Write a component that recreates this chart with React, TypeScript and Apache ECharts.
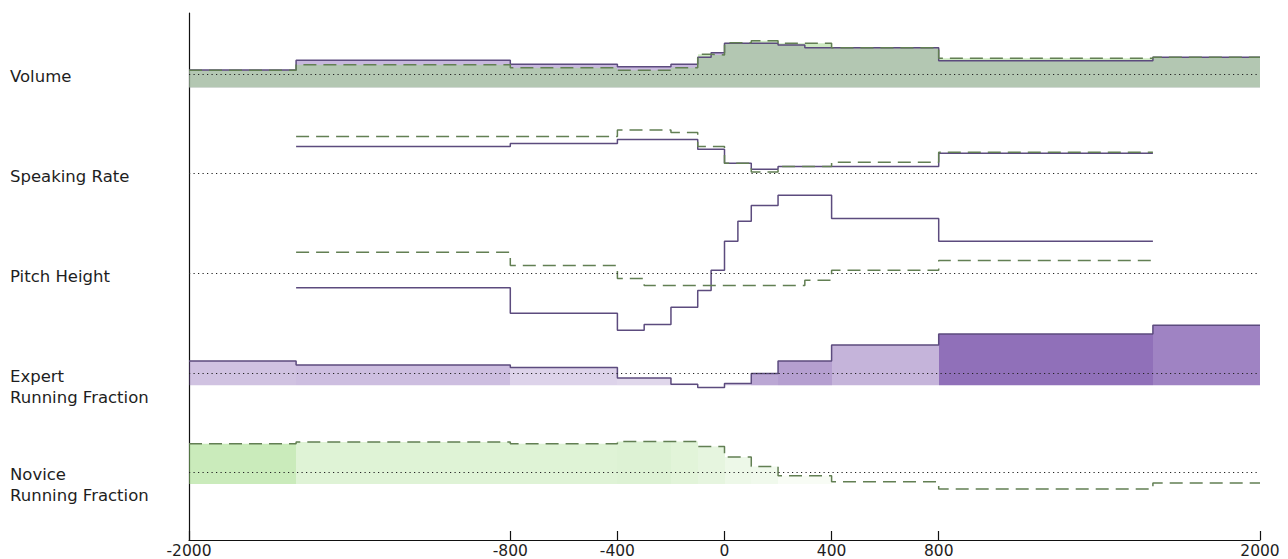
import React, { useEffect, useRef } from "react";
import * as echarts from "echarts";

// Bin edges (ms relative to event) shared by every panel
const binEdges = [-2000, -1600, -800, -400, -300, -200, -100, -50, 0, 50, 100, 200, 300, 400, 800, 1600, 2000];
const xTicks = [-2000, -800, -400, 0, 400, 800, 2000];

// Values per bin (relative units, 0 = reference dotted line)
const volumeExpert = [0.4, 1.37, 0.97, 0.73, 0.73, 0.97, 1.67, 2.13, 3.07, 3.07, 3.07, 2.9, 2.63, 2.63, 1.33, 1.67];
const volumeNovice = [0.37, 0.93, 0.63, 0.37, 0.37, 0.63, 1.97, 1.9, 3.13, 3.13, 3.33, 3.07, 3.07, 2.63, 1.57, 1.67];

const rateExpert = [null, 2.67, 2.97, 3.37, 3.37, 3.37, 2.4, 2.4, 1.0, 1.0, 0.4, 0.67, 0.67, 0.67, 2.0, null];
const rateNovice = [null, 3.67, 3.67, 4.33, 4.33, 4.07, 2.67, 2.67, 1.0, 1.0, 0.13, 0.67, 0.67, 1.1, 2.1, null];

const pitchExpert = [null, -1.43, -3.97, -5.67, -5.1, -3.37, -1.7, 0.33, 3.23, 5.23, 6.8, 7.83, 7.83, 5.5, 3.23, null];
const pitchNovice = [null, 2.13, 0.8, -0.5, -1.2, -1.2, -1.2, -1.2, -1.2, -1.2, -1.2, -1.2, -0.67, 0.33, 1.3, null];

const expertFraction = [1.23, 0.83, 0.57, -0.47, -0.47, -1.1, -1.43, -1.43, -1.03, -1.03, -0.03, 1.23, 1.23, 2.83, 3.93, 4.8];
const expertWeight = [0.35, 0.37, 0.25, 0.23, 0.23, 0.22, 0.2, 0.2, 0.3, 0.3, 0.5, 0.55, 0.55, 0.43, 0.82, 0.71];

const noviceFraction = [2.83, 3.0, 2.83, 3.06, 3.06, 3.06, 2.56, 2.56, 1.5, 1.5, 0.56, -0.37, -0.37, -0.97, -1.7, -1.1];
const noviceWeight = [0.5, 0.3, 0.3, 0.32, 0.32, 0.28, 0.24, 0.24, 0.17, 0.17, 0.14, 0.07, 0.07, 0, 0, 0];

const panelNames = [["Volume"], ["Speaking Rate"], ["Pitch Height"], ["Expert", "Running Fraction"], ["Novice", "Running Fraction"]];
const fillFloor = [-1.35, 0, 0, -1.2, -1.2];

// layout
const GRID_TOP = 13;
const GRID_BOTTOM_PX = 540;
const GRID_LEFT = 189;
const GRID_RIGHT_PX = 1260;
const PX_PER_UNIT = 10;
const refLinePx = [74, 173.3, 273.5, 373.3, 472];

const SOLID = "#5c4b7e";
const DASHED = "#627f53";
const FONT = "DejaVu Sans";

function stepPoints(values: (number | null)[]) {
  const pts: any[] = [];
  values.forEach((v, i) => {
    if (v == null) {
      if (pts.length && pts[pts.length - 1][1] != null) pts.push([binEdges[i], null]);
      return;
    }
    pts.push([binEdges[i], v], [binEdges[i + 1], v]);
  });
  return pts;
}

function stepFill(yAxisIndex: number, values: number[], weights: number[] | null, rgb: string, alpha: number, floor: number) {
  const data = values.map((v, i) => [binEdges[i], binEdges[i + 1], v, weights ? weights[i] : alpha]);
  return {
    type: "custom",
    xAxisIndex: 0,
    yAxisIndex,
    silent: true,
    z: 1,
    data,
    encode: { x: [0, 1], y: 2 },
    renderItem: (params: any, api: any) => {
      const x0 = api.value(0);
      const x1 = api.value(1);
      const v = api.value(2);
      const a = api.value(3);
      if (!(v > floor) || !(a > 0)) return null;
      const p0 = api.coord([x0, v]);
      const p1 = api.coord([x1, floor]);
      const left = Math.round(p0[0]);
      const right = Math.round(p1[0]);
      return {
        type: "rect",
        shape: { x: left, y: p0[1], width: right - left, height: p1[1] - p0[1] },
        style: { fill: `rgba(${rgb},${a})` },
      };
    },
  };
}

function stepLine(yAxisIndex: number, values: (number | null)[], color: string, dashed: boolean, withRef: boolean) {
  const s: any = {
    type: "line",
    xAxisIndex: 0,
    yAxisIndex,
    data: stepPoints(values),
    symbol: "none",
    showSymbol: false,
    silent: true,
    clip: false,
    z: 3,
    lineStyle: { color, width: 1.5, type: dashed ? [13, 7] : "solid" },
  };
  if (withRef) {
    s.markLine = {
      silent: true,
      symbol: "none",
      label: { show: false },
      z: 5,
      lineStyle: { color: "#222", width: 1.2, type: [1.2, 3.3] },
      data: [{ yAxis: 0 }],
    };
  }
  return s;
}

export default function App() {
  const ref = useRef<HTMLDivElement>(null);
  useEffect(() => {
    if (!ref.current) return;
    const chart = echarts.init(ref.current, null, { renderer: "svg" });
    const gridHeight = GRID_BOTTOM_PX - GRID_TOP;
    const totalUnits = gridHeight / PX_PER_UNIT;
    const yAxes = refLinePx.map((p, i) => {
      const max = (p - GRID_TOP) / PX_PER_UNIT;
      return {
        type: "value",
        gridIndex: 0,
        min: max - totalUnits,
        max,
        position: "left",
        offset: 0,
        axisLine: { show: i === 0, onZero: false, lineStyle: { color: "#111", width: 1.2 } },
        axisTick: { show: false },
        axisLabel: { show: false },
        splitLine: { show: false },
      };
    });

    const graphics: any[] = [];
    panelNames.forEach((lines, i) => {
      lines.forEach((t, j) => {
        graphics.push({
          type: "text",
          x: 10,
          y: refLinePx[i] + 2.7 + j * 21,
          silent: true,
          style: { text: t, fontSize: 16.5, fontFamily: FONT, fill: "#1e1e1e", verticalAlign: "middle", align: "left" },
        });
      });
    });

    chart.setOption({
      animation: false,
      backgroundColor: "#ffffff",
      grid: { left: GRID_LEFT, right: 1288 - GRID_RIGHT_PX, top: GRID_TOP, bottom: 559 - GRID_BOTTOM_PX, containLabel: false },
      xAxis: {
        type: "value",
        min: -2000,
        max: 2000,
        axisLine: { show: true, onZero: false, lineStyle: { color: "#111", width: 1.2 } },
        axisTick: { show: true, inside: true, length: 9, customValues: xTicks, lineStyle: { color: "#111", width: 1.2 } },
        axisLabel: {
          show: true,
          customValues: xTicks,
          fontSize: 15.5,
          fontFamily: FONT,
          color: "#1e1e1e",
          margin: 3,
          formatter: (v: number) => String(v),
        },
        splitLine: { show: false },
      },
      yAxis: yAxes,
      graphic: graphics,
      series: [
        stepFill(0, volumeExpert, null, "145,113,189", 0.5, fillFloor[0]),
        stepFill(0, volumeNovice, null, "157,213,133", 0.5, fillFloor[0]),
        stepFill(3, expertFraction, expertWeight, "120,80,170", 1, fillFloor[3]),
        stepFill(4, noviceFraction, noviceWeight, "150,215,120", 1, fillFloor[4]),
        stepLine(0, volumeExpert, SOLID, false, true),
        stepLine(0, volumeNovice, DASHED, true, false),
        stepLine(1, rateExpert, SOLID, false, true),
        stepLine(1, rateNovice, DASHED, true, false),
        stepLine(2, pitchExpert, SOLID, false, true),
        stepLine(2, pitchNovice, DASHED, true, false),
        stepLine(3, expertFraction, SOLID, false, true),
        stepLine(4, noviceFraction, DASHED, true, true),
      ],
    });
    return () => chart.dispose();
  }, []);
  return <div ref={ref} style={{ position: "fixed", left: 0, top: 0, width: 1288, height: 559 }} />;
}
